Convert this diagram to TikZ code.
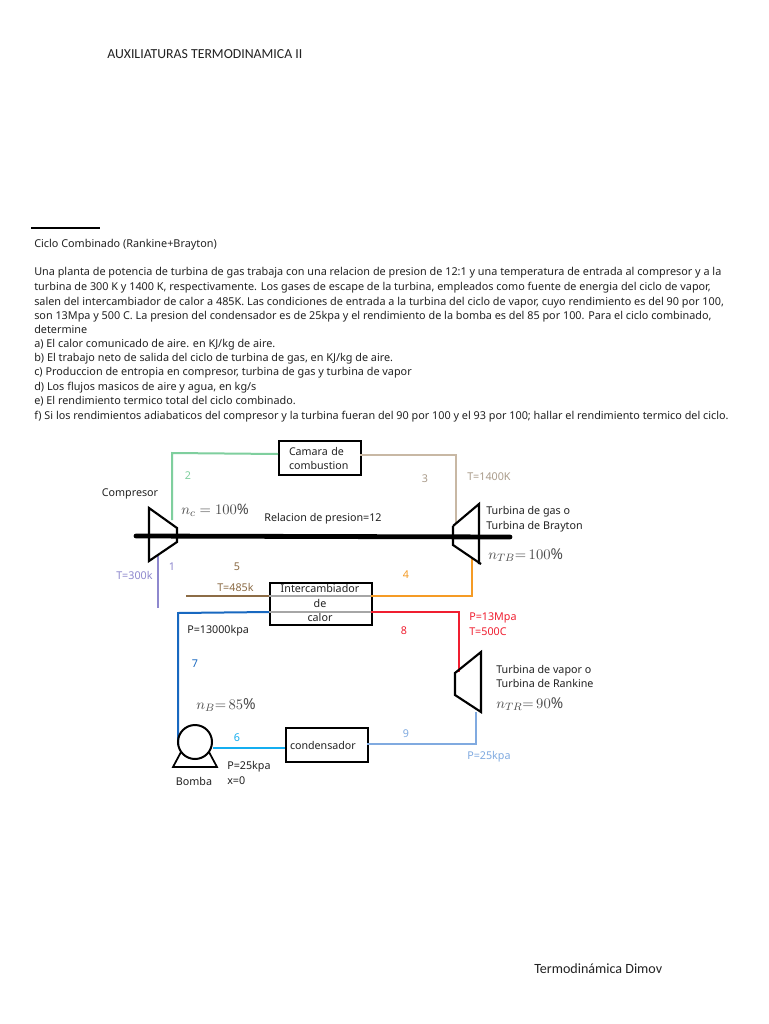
\documentclass[tikz,border=0pt]{standalone}
\usepackage{fontspec}
\setmainfont{Noto Sans}
\newfontfamily\headfont{Carlito}
\definecolor{cgreen}{HTML}{7FCF9E}
\definecolor{ctan}{HTML}{C8B8A4}
\definecolor{cpurple}{HTML}{8E88CE}
\definecolor{cbrown}{HTML}{8C6C46}
\definecolor{corange}{HTML}{F59B25}
\definecolor{cred}{HTML}{F01E30}
\definecolor{cblue}{HTML}{1868C0}
\definecolor{ccyan}{HTML}{14AEF0}
\definecolor{clight}{HTML}{80AAE0}
\definecolor{ctext}{HTML}{222222}
\tikzset{
  para/.style={anchor=west,inner sep=0pt,text height=6pt,text depth=2pt,font=\fontsize{8.13}{9}\selectfont,text=ctext},
  lab/.style={inner sep=0pt,font=\fontsize{8.05}{9}\selectfont,text=ctext},
  lab2/.style={lab,align=left,font=\fontsize{8.05}{11.1}\selectfont},
  eff/.style={inner sep=0pt,anchor=west,text=black!70,font=\fontsize{11.2}{12}\selectfont},
  boxnode/.style={draw=black,line width=1.5pt,inner ysep=0pt,align=left,anchor=north west,font=\fontsize{8}{10.5}\selectfont,text=ctext},
  mach/.style={draw=black,line width=1.6pt,line join=miter},
  pipe/.style={line width=1.5pt},
}
\begin{document}
\begin{tikzpicture}[x=0.75pt,y=-0.75pt]
\useasboundingbox[fill=white] (0,0) rectangle (768,1024);
% header / footer
\node[inner sep=0pt,anchor=west,font=\headfont\fontsize{10.33}{12}\selectfont,text=ctext] (head) at (107,54) {AUXILIATURAS TERMODINAMICA II};
\node[inner sep=0pt,anchor=west,font=\headfont\fontsize{10.55}{12}\selectfont,text=ctext] (foot) at (534,969) {Termodinámica Dimov};
\coordinate (ruleA) at (31,228); \coordinate (ruleB) at (100,228);
\draw[line width=1.3pt] (ruleA) -- (ruleB);
% statement
\node[para] (t0) at (34,245) {Ciclo Combinado (Rankine+Brayton)};
\node[para] (t1) at (34,273) {Una planta de potencia de turbina de gas trabaja con una relacion de presion de 12:1 y una temperatura de entrada al compresor y a la};
\node[para] (t2) at (34,288) {turbina de 300 K y 1400 K, respectivamente. Los gases de escape de la turbina, empleados como fuente de energia del ciclo de vapor,};
\node[para] (t3) at (34,303) {salen del intercambiador de calor a 485K. Las condiciones de entrada a la turbina del ciclo de vapor, cuyo rendimiento es del 90 por 100,};
\node[para] (t4) at (34,317) {son 13Mpa y 500 C. La presion del condensador es de 25kpa y el rendimiento de la bomba es del 85 por 100. Para el ciclo combinado,};
\node[para] (t5) at (34,331) {determine};
\node[para] (t6) at (34,345) {a) El calor comunicado de aire. en KJ/kg de aire.};
\node[para] (t7) at (34,359) {b) El trabajo neto de salida del ciclo de turbina de gas, en KJ/kg de aire.};
\node[para] (t8) at (34,373) {c) Produccion de entropia en compresor, turbina de gas y turbina de vapor};
\node[para] (t9) at (34,388) {d) Los flujos masicos de aire y agua, en kg/s};
\node[para] (t10) at (34,402) {e) El rendimiento termico total del ciclo combinado.};
\node[para] (t11) at (34,417) {f) Si los rendimientos adiabaticos del compresor y la turbina fueran del 90 por 100 y el 93 por 100; hallar el rendimiento termico del ciclo.};
% boxes
\node[boxnode,inner xsep=7.5pt,text width=46.5pt,minimum height=25.5pt] (cam) at (278,440) {Camara de\\combustion};
\node[boxnode,inner xsep=0pt,minimum width=76.5pt,minimum height=31.5pt] (int) at (269,582) {};
\node[boxnode,inner xsep=3pt,text width=55.5pt,minimum height=25.5pt] (cond) at (285,727) {condensador};
\node[lab] (int1) at (320,588) {Intercambiador};
\node[lab] (int2) at (320,603) {de};
\node[lab] (int3) at (320,617.5) {calor};
\coordinate (intL1) at (269,596); \coordinate (intR1) at (371,596);
\coordinate (intL2) at (269,612); \coordinate (intR2) at (371,612);
\draw[black!35,line width=1pt] (intL1) -- (intR1);
\draw[black!35,line width=1pt] (intL2) -- (intR2);
% waypoints
\coordinate (g0) at (172,520); \coordinate (g1) at (172,453); \coordinate (g2) at (278,454);
\coordinate (tn0) at (360,455); \coordinate (tn1) at (456,455); \coordinate (tn2) at (456,524);
\coordinate (p0) at (158,556); \coordinate (p1) at (158,608);
\coordinate (b0) at (186,596);
\coordinate (o1) at (472,596); \coordinate (o2) at (472,558);
\coordinate (r1) at (459,612); \coordinate (r2) at (459,672);
\coordinate (bl1) at (178,613); \coordinate (bl2) at (178,745);
\coordinate (c0) at (213,748); \coordinate (c1) at (285,748);
\coordinate (l0) at (367,744); \coordinate (l1) at (476,744); \coordinate (l2) at (476,712);
% pipes
\draw[pipe,cgreen] (g0) -- (g1) -- (g2);
\draw[pipe,ctan] (tn0) -- (tn1) -- (tn2);
\draw[pipe,cpurple] (p0) -- (p1);
\draw[pipe,cbrown] (b0) -- (intL1);
\draw[pipe,corange] (intR1) -- (o1) -- (o2);
\draw[pipe,cred,line width=1.7pt] (intR2) -- (r1) -- (r2);
\draw[pipe,cblue] (intL2) -- (bl1) -- (bl2);
\draw[pipe,ccyan,line width=1.7pt] (c0) -- (c1);
\draw[pipe,clight] (l0) -- (l1) -- (l2);
% shaft
\coordinate (s0) at (136,536); \coordinate (s1) at (510,537);
\draw[line width=3.6pt,line cap=round] (s0) -- (s1);
% machines
\draw[mach] (149,508) -- (177,528) -- (177,542) -- (149,561) -- cycle;
\draw[mach] (453,526) -- (479,504) -- (479,564) ;
\draw[mach] (453,526) -- (453,545) -- (481,564);
\draw[mach] (455,673) -- (481,652) -- (481,712) -- (455,695) -- cycle;
% pump
\node[draw=black,line width=1.5pt,circle,minimum size=25.5pt,inner sep=0pt] (pump) at (195,742) {};
\draw[mach,line width=1.3pt] (181,752) -- (173,767) -- (217,767) -- (209,752);
% numbers
\node[lab,text=cgreen] (n2) at (188,476) {2};
\node[lab,text=ctan!85!black] (n3) at (425,479) {3};
\node[lab,text=cpurple] (n1) at (172,567) {1};
\node[lab,text=cbrown] (n5) at (237,567) {5};
\node[lab,text=corange] (n4) at (406,575) {4};
\node[lab,text=cred] (n8) at (404,631) {8};
\node[lab,text=cblue] (n7) at (195,664) {7};
\node[lab,text=ccyan] (n6) at (237,738) {6};
\node[lab,text=clight] (n9) at (406,734) {9};
% labels
\node[lab] (lc) at (130,494) {Compresor};
\node[lab] (lr) at (323,519) {Relacion de presion=12};
\node[lab,anchor=west,text=cpurple] (l300) at (116,575) {T=300k};
\node[lab,text=cbrown,anchor=west] (l485) at (217,587) {T=485k};
\node[lab,text=ctan!85!black,anchor=west] (l1400) at (467,477) {T=1400K};
\node[lab2,anchor=west] (ltg) at (486,519.5) {Turbina de gas o\\Turbina de Brayton};
\node[lab2,anchor=west] (l13k) at (187,631) {P=13000kpa};
\node[lab2,anchor=west,text=cred] (l13m) at (469,624) {P=13Mpa\\T=500C};
\node[lab2,anchor=west] (ltv) at (496,676.5) {Turbina de vapor o\\Turbina de Rankine};
\node[lab,text=clight,anchor=west] (l25b) at (467,757) {P=25kpa};
\node[lab2,anchor=west] (l25) at (227,773) {P=25kpa\\x=0};
\node[lab] (lbom) at (194,781) {Bomba};
% efficiencies
\node[eff,font=\fontsize{10.8}{12}\selectfont] (ec) at (181,510) {$n_c = 100\%$};
\node[eff] (etb) at (488,555) {$n_{TB}{=}\,100\%$};
\node[eff,font=\fontsize{11.4}{12}\selectfont] (eb) at (196,705) {$n_B{=}\,85\%$};
\node[eff] (etr) at (496,704) {$n_{TR}{=}\,90\%$};
\end{tikzpicture}
\end{document}
